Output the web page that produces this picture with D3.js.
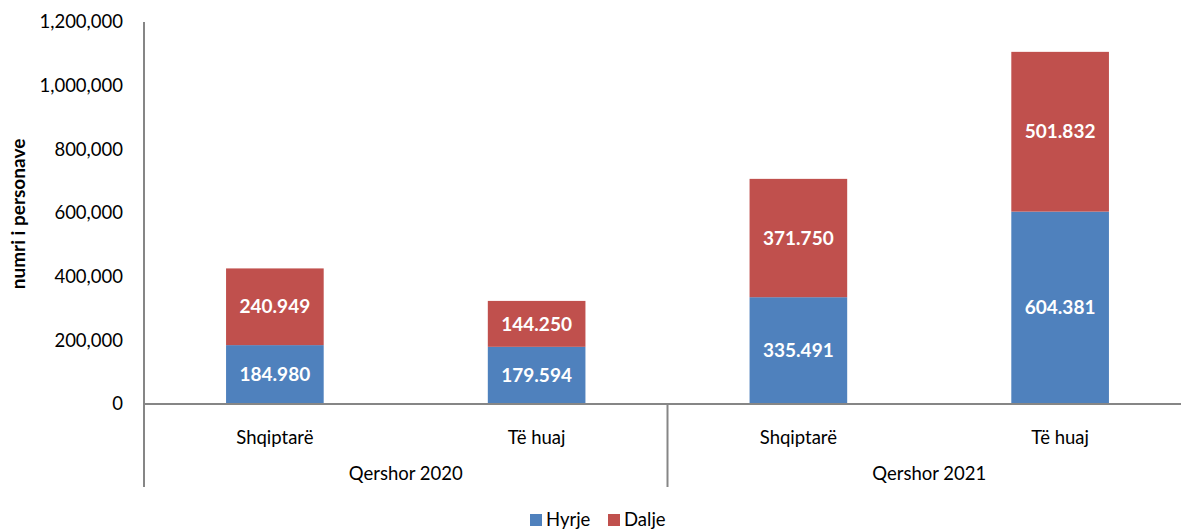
<!DOCTYPE html>
<html>
<head>
<meta charset="utf-8">
<script src="https://cdn.jsdelivr.net/npm/d3@7"></script>
<style>
  body { margin: 0; background: #fff; }
  text { font-family: Lato, 'Open Sans', sans-serif; }
</style>
</head>
<body>
<script>
// chart values
let categories = ['Shqiptarë', 'Të huaj', 'Shqiptarë', 'Të huaj']
let groups = ['Qershor 2020', 'Qershor 2021']
let hyrje = [184980, 179594, 335491, 604381]
let dalje = [240949, 144250, 371750, 501832]
let yTicks = [0, 200000, 400000, 600000, 800000, 1000000, 1200000]
let seriesNames = ['Hyrje', 'Dalje']
let colors = ['#4F81BD', '#C0504D']

// measurements
let m = {
  width: 1181,
  height: 531,
  left: 144,
  right: 1191,
  top: 22,
  zero: 404,
  bottom: 487,
}

let svg = d3.select('body')
  .append('svg')
  .attr('width', m.width)
  .attr('height', m.height)

let xScale = d3.scaleBand()
  .domain(d3.range(categories.length))
  .range([m.left, m.right])
  .paddingInner(0.627)
  .paddingOuter(0.3135)

let yScale = d3.scaleLinear()
  .domain([0, 1200000])
  .range([m.zero, m.top])

let step = xScale.step()

// stack the two series
let rows = categories.map(function(c, i) { return { i: i, Hyrje: hyrje[i], Dalje: dalje[i] } })
let stacked = d3.stack().keys(seriesNames)(rows)

svg.selectAll('g.series')
  .data(stacked)
  .enter()
  .append('g')
    .attr('fill', function(d, i) { return colors[i] })
  .selectAll('rect')
  .data(function(d) { return d })
  .enter()
  .append('rect')
    .attr('x', function(d) { return xScale(d.data.i) })
    .attr('width', xScale.bandwidth())
    .attr('y', function(d) { return yScale(d[1]) })
    .attr('height', function(d) { return yScale(d[0]) - yScale(d[1]) })

// data labels
let fmt = d3.format(',')
svg.selectAll('g.labels')
  .data(stacked)
  .enter()
  .append('g')
  .selectAll('text')
  .data(function(d) { return d })
  .enter()
  .append('text')
    .attr('x', function(d) { return xScale(d.data.i) + xScale.bandwidth() / 2 })
    .attr('y', function(d) { return yScale((d[0] + d[1]) / 2) })
    .attr('dy', '0.35em')
    .attr('text-anchor', 'middle')
    .attr('fill', '#fff')
    .attr('font-weight', 'bold')
    .attr('font-size', 19)
    .text(function(d) { return fmt(d[1] - d[0]).replace(/,/g, '.') })

// y axis
let yAxis = d3.axisLeft(yScale)
  .tickValues(yTicks)
  .tickFormat(d3.format(','))
  .tickSize(0)
  .tickPadding(21)

let yg = svg.append('g')
  .attr('transform', 'translate(' + m.left + ',0)')
  .call(yAxis)
yg.select('.domain').remove()
yg.selectAll('text')
  .attr('font-size', 18.5)
  .attr('fill', '#000')
  .style('font-family', 'Lato, sans-serif')

// axis lines
let grey = '#868686'
svg.append('line')
  .attr('x1', m.left).attr('x2', m.left)
  .attr('y1', m.top).attr('y2', m.bottom)
  .attr('stroke', grey).attr('stroke-width', 2)
svg.append('line')
  .attr('x1', m.left).attr('x2', m.width)
  .attr('y1', m.zero).attr('y2', m.zero)
  .attr('stroke', grey).attr('stroke-width', 2)

// group divider
svg.append('line')
  .attr('x1', m.left + 2 * step).attr('x2', m.left + 2 * step)
  .attr('y1', m.zero).attr('y2', m.bottom)
  .attr('stroke', grey).attr('stroke-width', 2)

// category labels
svg.selectAll('text.cat')
  .data(categories)
  .enter()
  .append('text')
    .attr('class', 'cat')
    .attr('x', function(d, i) { return xScale(i) + xScale.bandwidth() / 2 })
    .attr('y', 438)
    .attr('dy', '0.35em')
    .attr('text-anchor', 'middle')
    .attr('font-size', 18.5)
    .text(function(d) { return d })

// group labels
svg.selectAll('text.grp')
  .data(groups)
  .enter()
  .append('text')
    .attr('class', 'grp')
    .attr('x', function(d, i) { return m.left + step * (2 * i + 1) })
    .attr('y', 474)
    .attr('dy', '0.35em')
    .attr('text-anchor', 'middle')
    .attr('font-size', 18.5)
    .text(function(d) { return d })

// y axis title
svg.append('text')
  .attr('transform', 'translate(18,214) rotate(-90)')
  .attr('text-anchor', 'middle')
  .attr('dy', '0.35em')
  .attr('font-size', 19)
  .attr('font-weight', 'bold')
  .text('numri i personave')

// legend
let legendX = [530, 608]
let legend = svg.selectAll('g.legend')
  .data(seriesNames)
  .enter()
  .append('g')
    .attr('transform', function(d, i) { return 'translate(' + legendX[i] + ',520)' })
legend.append('rect')
  .attr('x', 0).attr('y', -6)
  .attr('width', 12).attr('height', 12)
  .attr('fill', function(d, i) { return colors[i] })
legend.append('text')
  .attr('x', 16)
  .attr('dy', '0.35em')
  .attr('font-size', 18.5)
  .text(function(d) { return d })
</script>
</body>
</html>
